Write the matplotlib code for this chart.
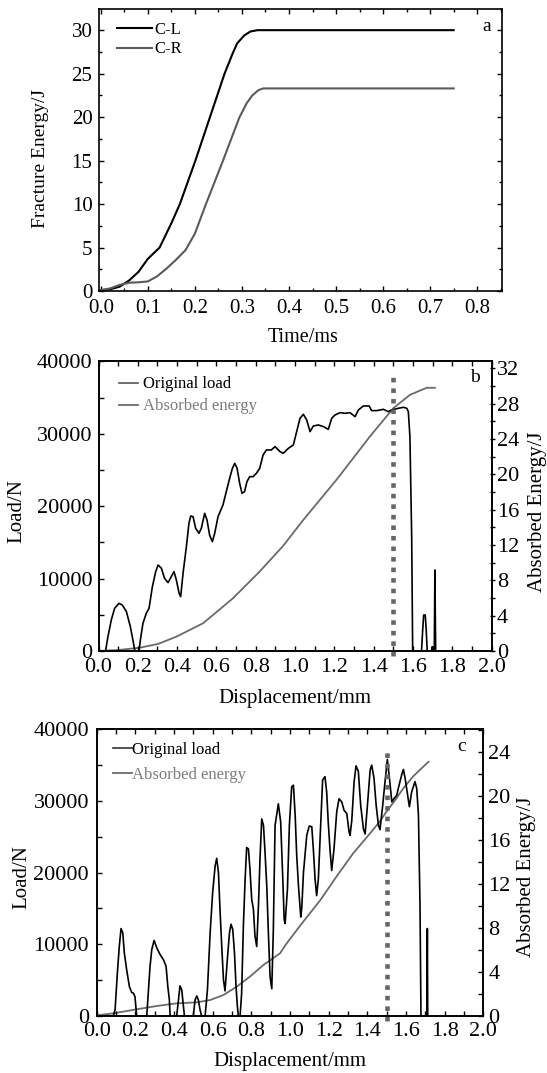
import matplotlib
matplotlib.use("Agg")
import matplotlib.pyplot as plt
from matplotlib.ticker import MultipleLocator, FormatStrFormatter

plt.rcParams['font.family'] = ['Liberation Serif', 'DejaVu Serif']

# ---------------- data: panel a ----------------
t_cl = [0, 0.02, 0.04, 0.06, 0.08, 0.10, 0.125, 0.15, 0.168, 0.201, 0.232, 0.263,
        0.28, 0.29, 0.305, 0.318, 0.333, 0.75]
e_cl = [0.1, 0.2, 0.5, 1.2, 2.2, 3.7, 5.0, 7.8, 10.0, 15.0, 20.0, 25.0,
        27.3, 28.5, 29.4, 29.85, 30.0, 30.0]
t_cr = [0, 0.02, 0.04, 0.06, 0.08, 0.10, 0.12, 0.14, 0.16, 0.18, 0.20, 0.222,
        0.259, 0.294, 0.31, 0.322, 0.335, 0.345, 0.75]
e_cr = [0.1, 0.3, 0.7, 0.95, 1.0, 1.1, 1.7, 2.6, 3.6, 4.7, 6.6, 9.8,
        14.9, 19.9, 21.6, 22.5, 23.1, 23.3, 23.3]

# ---------------- data: panel b ----------------
xb_load = [0.000, 0.036, 0.048, 0.065, 0.082, 0.104, 0.121, 0.142, 0.162, 0.175, 0.184, 0.190,
           0.206, 0.213, 0.226, 0.243, 0.257, 0.274, 0.291, 0.303, 0.320, 0.336, 0.354, 0.370,
           0.384, 0.396, 0.410, 0.418, 0.430, 0.447, 0.460, 0.469, 0.481, 0.494, 0.511, 0.523,
           0.540, 0.552, 0.565, 0.579, 0.591, 0.608, 0.633, 0.650, 0.667, 0.681, 0.693, 0.705,
           0.718, 0.730, 0.743, 0.755, 0.769, 0.786, 0.803, 0.820, 0.837, 0.854, 0.879, 0.898,
           0.923, 0.940, 0.966, 0.991, 1.008, 1.025, 1.042, 1.059, 1.076, 1.093, 1.118, 1.144,
           1.169, 1.186, 1.203, 1.229, 1.254, 1.279, 1.305, 1.322, 1.347, 1.377, 1.389, 1.415,
           1.449, 1.474, 1.491, 1.525, 1.551, 1.568, 1.576, 1.584, 1.593, 1.598, 1.643, 1.649,
           1.654, 1.662, 1.667, 1.672, 1.694, 1.698, 1.701, 1.708, 1.711, 1.715]
yb_load = [0, 0, 1980, 4280, 5890, 6580, 6350, 5430, 3360, 1520, 140, 0,
           0, 1520, 3820, 5200, 5890, 8880, 10960, 11880, 11420, 10030, 9440, 10260,
           10960, 9800, 7960, 7500, 10730, 14410, 17630, 18640, 18550, 16940, 16250, 16940,
           19010, 18090, 16020, 15100, 16250, 18550, 20160, 22000, 23840, 25220, 25910, 25220,
           23150, 21770, 22000, 23380, 24070, 24070, 24530, 25220, 27060, 27760, 27760, 28220,
           27530, 27300, 27990, 28450, 30290, 32130, 32680, 31900, 30290, 31070, 31210, 30980,
           30610, 32130, 32590, 32910, 32820, 32910, 32360, 33280, 33830, 33830, 33190, 33190,
           33370, 33050, 33280, 33510, 33650, 33510, 33050, 29600, 15790, 0, 0, 2900,
           4970, 4970, 2900, 0, 0, 600, 0, 0, 11190, 0]
xb_energy = [0.0, 0.1, 0.209, 0.303, 0.396, 0.532, 0.684, 0.82, 0.939, 1.042, 1.211,
             1.381, 1.5, 1.584, 1.669, 1.711]
yb_energy = [0.0, 0.11, 0.37, 0.8, 1.62, 3.14, 5.97, 9.0, 11.9, 14.85, 19.4,
             24.3, 27.5, 29.0, 29.8, 29.8]

# ---------------- data: panel c ----------------
xc_load = [0.000, 0.086, 0.095, 0.107, 0.117, 0.126, 0.135, 0.143, 0.155, 0.169, 0.181, 0.190,
           0.198, 0.207, 0.259, 0.267, 0.276, 0.285, 0.297, 0.311, 0.328, 0.345, 0.359, 0.368,
           0.376, 0.380, 0.414, 0.423, 0.431, 0.440, 0.449, 0.454, 0.500, 0.509, 0.518, 0.526,
           0.535, 0.543, 0.561, 0.573, 0.587, 0.600, 0.613, 0.621, 0.630, 0.638, 0.647, 0.656,
           0.664, 0.676, 0.687, 0.695, 0.704, 0.713, 0.721, 0.728, 0.733, 0.742, 0.750, 0.759,
           0.768, 0.776, 0.785, 0.793, 0.802, 0.811, 0.819, 0.828, 0.837, 0.845, 0.854, 0.863,
           0.871, 0.880, 0.889, 0.897, 0.906, 0.914, 0.923, 0.940, 0.952, 0.963, 0.970, 0.975,
           0.987, 0.997, 1.009, 1.018, 1.027, 1.035, 1.044, 1.056, 1.061, 1.070, 1.087, 1.100,
           1.113, 1.121, 1.130, 1.138, 1.147, 1.159, 1.169, 1.181, 1.190, 1.198, 1.207, 1.216,
           1.228, 1.242, 1.254, 1.268, 1.280, 1.294, 1.306, 1.311, 1.320, 1.332, 1.342, 1.354,
           1.366, 1.380, 1.389, 1.401, 1.415, 1.423, 1.435, 1.446, 1.458, 1.466, 1.480, 1.492,
           1.504, 1.515, 1.527, 1.539, 1.553, 1.561, 1.578, 1.587, 1.596, 1.608, 1.618, 1.630,
           1.647, 1.656, 1.665, 1.673, 1.678, 1.708, 1.711, 1.713]
yc_load = [0, 0, 840, 6000, 9740, 12200, 11600, 8800, 6460, 4120, 3300, 3180,
           2700, 0, 0, 3180, 6930, 9270, 10540, 9510, 8570, 7870, 6930, 4120,
           2250, 0, 0, 2250, 4200, 3650, 1310, 0, 0, 2250, 2800, 2250,
           840, 0, 0, 3650, 11600, 17230, 20980, 22000, 20040, 14890, 9740, 5060,
           3500, 7870, 11600, 12800, 12080, 8800, 4120, 1310, 0, 0, 3180, 12550,
           19100, 23500, 23320, 20510, 16300, 14890, 11150, 9700, 15360, 21920, 27500, 26600,
           22850, 18170, 11150, 5530, 3800, 12000, 26600, 29600, 27070, 19110, 13490, 12900,
           17700, 26600, 31990, 32200, 28000, 22380, 18170, 13800, 15000, 20040, 25200, 26510,
           26400, 23320, 19110, 16800, 19110, 26600, 32920, 33390, 31290, 27070, 23320, 20300,
           23320, 28480, 30300, 29880, 28700, 28250, 25670, 25200, 27300, 32690, 34900, 34100,
           29410, 26130, 25400, 29410, 34330, 35000, 33170, 29410, 26600, 26000, 29410, 32700,
           35800, 33170, 29880, 30350, 30820, 31800, 33630, 34400, 33170, 31060, 29200, 31290,
           32700, 31760, 28000, 15360, 0, 0, 12200, 0]
xc_energy = [0.0, 0.086, 0.207, 0.311, 0.414, 0.518, 0.587, 0.656, 0.725, 0.793, 0.863,
             0.949, 0.983, 1.07, 1.156, 1.242, 1.328, 1.415, 1.466, 1.501, 1.544, 1.587,
             1.639, 1.717]
yc_energy = [0.06, 0.24, 0.61, 0.91, 1.15, 1.24, 1.45, 1.91, 2.67, 3.58, 4.64,
             5.7, 6.6, 8.6, 10.5, 12.7, 14.8, 16.6, 17.7, 18.6, 19.6, 20.7,
             21.8, 23.1]

marker_x = 1.5
legend_a = ['C-L', 'C-R']
legend_bc = ['Original load', 'Absorbed energy']

# ---------------- layout ----------------
W, H = 547, 1073
fig = plt.figure(figsize=(W / 100, H / 100), dpi=100)


def rect(l, r, t, b):
    return [l / W, 1 - b / H, (r - l) / W, (b - t) / H]


def fpt(x, y):
    return (x / W, 1 - y / H)


GRAY = '#6a6a6a'
LGRAY = '#7c7c7c'
SPW = 1.2

# ================= panel a =================
axa = fig.add_axes(rect(99.4, 501.7, 9.3, 291))
la, = axa.plot(t_cl, e_cl, color='black', lw=1.5)
lb, = axa.plot(t_cr, e_cr, color='#5a5a5a', lw=1.5)
axa.set_xlim(-0.003, 0.852)
axa.set_ylim(0, 32.4)
axa.xaxis.set_major_locator(MultipleLocator(0.1))
axa.xaxis.set_minor_locator(MultipleLocator(0.05))
axa.yaxis.set_major_locator(MultipleLocator(5))
axa.yaxis.set_minor_locator(MultipleLocator(2.5))
axa.xaxis.set_major_formatter(FormatStrFormatter('%.1f'))
axa.tick_params(which='both', direction='in', top=True, right=True, width=1.0)
axa.tick_params(which='major', length=3.8, labelsize=15)
axa.tick_params(which='minor', length=2.2)
axa.tick_params(axis='y', pad=5.0)
axa.tick_params(axis='x', pad=5.8)
for s in axa.spines.values():
    s.set_linewidth(SPW)
axa.set_xlabel('Time/ms', fontsize=14.5)
axa.set_ylabel('Fracture Energy/J', fontsize=14)
axa.xaxis.set_label_coords(*fpt(303, 341.7), transform=fig.transFigure)
axa.xaxis.label.set_va('baseline')
axa.yaxis.set_label_coords(*fpt(45, 158.5), transform=fig.transFigure)
axa.yaxis.label.set_va('baseline')
axa.legend([la, lb], legend_a, loc='upper left', frameon=False, fontsize=12,
           bbox_to_anchor=fpt(116.8, 22.0), bbox_transform=fig.transFigure,
           borderpad=0, borderaxespad=0, handlelength=2.13, handletextpad=0.1,
           labelspacing=0.2)
fig.text(*fpt(486.7, 26.7), 'a', fontsize=14, ha='center', va='center')

# ================= panel b =================
axb = fig.add_axes(rect(98.5, 491.7, 361.3, 651))
axb2 = axb.twinx()
lbl, = axb.plot(xb_load, yb_load, color='black', lw=1.2)
lbe, = axb2.plot(xb_energy, yb_energy, color=GRAY, lw=1.3)
axb.plot([marker_x, marker_x], [-650, 37900], color='#666666', lw=3.3,
         linestyle=(0, (1.0, 1.3)), dash_capstyle='butt', clip_on=False, zorder=5)
axb.set_xlim(0, 2.0)
axb.set_ylim(0, 40000)
axb2.set_ylim(0, 32.8)

# ================= panel c =================
axc = fig.add_axes(rect(96.7, 483.2, 729.3, 1016))
axc2 = axc.twinx()
lcl, = axc.plot(xc_load, yc_load, color='black', lw=1.2)
lce, = axc2.plot(xc_energy, yc_energy, color=GRAY, lw=1.3)
axc.plot([marker_x, marker_x], [-700, 37400], color='#666666', lw=3.3,
         linestyle=(0, (1.0, 1.3)), dash_capstyle='butt', clip_on=False, zorder=5)
axc.set_xlim(0, 2.0)
axc.set_ylim(0, 40000)
axc2.set_ylim(0, 26.05)

for ax, ax2, rdir, ylpad, rpad, xpad in [(axb, axb2, 'inout', 4.4, 1.8, 5.2),
                                         (axc, axc2, 'in', 5.5, 3.7, 4.6)]:
    ax.xaxis.set_major_locator(MultipleLocator(0.2))
    ax.xaxis.set_minor_locator(MultipleLocator(0.1))
    ax.yaxis.set_major_locator(MultipleLocator(10000))
    ax.yaxis.set_minor_locator(MultipleLocator(5000))
    ax.xaxis.set_major_formatter(FormatStrFormatter('%.1f'))
    ax2.yaxis.set_major_locator(MultipleLocator(4))
    ax2.yaxis.set_minor_locator(MultipleLocator(2))
    ax.tick_params(which='both', direction='in', top=True, right=False, width=1.0)
    ax.tick_params(which='major', length=3.6, labelsize=16)
    ax.tick_params(which='minor', length=3.6)
    ax.tick_params(axis='x', which='both', pad=xpad)
    ax.tick_params(axis='y', pad=ylpad)
    ax2.tick_params(which='both', direction=rdir, width=1.0, pad=rpad)
    ax2.tick_params(which='major', length=3.6, labelsize=16)
    ax2.tick_params(which='minor', length=3.6)
    for s in list(ax.spines.values()) + list(ax2.spines.values()):
        s.set_linewidth(SPW)

axb.set_xlabel('Displacement/mm', fontsize=15)
axb.set_ylabel('Load/N', fontsize=15)
axb2.set_ylabel('Absorbed Energy/J', fontsize=15, rotation=90)
axb.xaxis.set_label_coords(*fpt(295, 702.7), transform=fig.transFigure)
axb.xaxis.label.set_va('baseline')
axb.yaxis.set_label_coords(*fpt(21, 511), transform=fig.transFigure)
axb.yaxis.label.set_va('baseline')
axb2.yaxis.set_label_coords(*fpt(542, 511.7), transform=fig.transFigure)
axb2.yaxis.label.set_va('baseline')

axc.set_xlabel('Displacement/mm', fontsize=15)
axc.set_ylabel('Load/N', fontsize=15)
axc2.set_ylabel('Absorbed Energy/J', fontsize=15, rotation=90)
axc.xaxis.set_label_coords(*fpt(290, 1065.7), transform=fig.transFigure)
axc.xaxis.label.set_va('baseline')
axc.yaxis.set_label_coords(*fpt(26, 877.5), transform=fig.transFigure)
axc.yaxis.label.set_va('baseline')
axc2.yaxis.set_label_coords(*fpt(531, 876.7), transform=fig.transFigure)
axc2.yaxis.label.set_va('baseline')

axb.legend([lbl, lbe], legend_bc, loc='upper left', frameon=False, fontsize=12,
           bbox_to_anchor=fpt(118.6, 376.5), bbox_transform=fig.transFigure,
           borderpad=0, borderaxespad=0, handlelength=1.15, handletextpad=0.3,
           labelspacing=0.35, labelcolor=['black', LGRAY])
axc.legend([lcl, lce], legend_bc, loc='upper left', frameon=False, fontsize=12,
           bbox_to_anchor=fpt(113.3, 742.2), bbox_transform=fig.transFigure,
           borderpad=0, borderaxespad=0, handlelength=1.1, handletextpad=0.02,
           labelspacing=0.5, labelcolor=['black', LGRAY])
axb.get_legend().legend_handles[0].set_color('#555555')
axc.get_legend().legend_handles[0].set_color('#333333')
for axx, tw in ((axb, axb2), (axc, axc2)):
    axx.set_zorder(tw.get_zorder() + 1)
    axx.patch.set_visible(False)

fig.text(*fpt(475, 377), 'b', fontsize=14, ha='center', va='center')
fig.text(*fpt(462, 746.7), 'c', fontsize=14, ha='center', va='center')

fig.savefig('out.png', dpi=100)
